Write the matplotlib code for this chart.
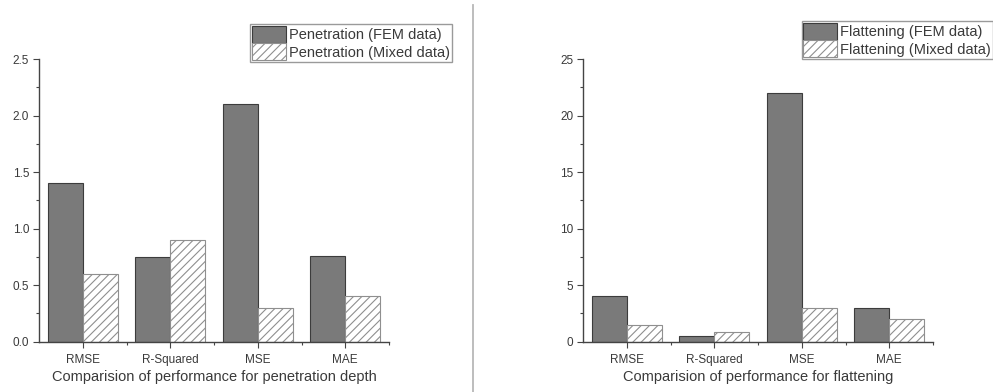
import numpy as np
import matplotlib.pyplot as plt
from matplotlib.ticker import MultipleLocator, FixedLocator
from matplotlib.lines import Line2D

plt.rcParams['font.family'] = ['Liberation Sans', 'DejaVu Sans']
plt.rcParams['hatch.linewidth'] = 0.8

metrics = ['RMSE', 'R-Squared', 'MSE', 'MAE']

pen_fem = [1.40, 0.75, 2.10, 0.76]
pen_mixed = [0.60, 0.90, 0.30, 0.40]

flat_fem = [4.0, 0.5, 22.0, 3.0]
flat_mixed = [1.5, 0.9, 3.0, 2.0]

fig = plt.figure(figsize=(9.93, 3.92), dpi=100)
ax1 = fig.add_axes([39/993, 1-341.7/392, 350/993, 282.7/392])
ax2 = fig.add_axes([583/993, 1-341.7/392, 350/993, 282.7/392])

text_col = '#3a3a3a'
w = 0.4
x = np.arange(len(metrics))


def draw(ax, fem, mixed, labels, ymax, ystep, xlabel, leg_box):
    ax.bar(x - w/2, fem, w, color='#7a7a7a', edgecolor='#3c3c3c', linewidth=0.8,
           label=labels[0])
    ax.bar(x + w/2, mixed, w, color='white', edgecolor='#8f8f8f', hatch='////',
           linewidth=0.8, label=labels[1])
    ax.set_xlim(-0.5, 3.5)
    ax.set_ylim(0, ymax)
    ax.spines['top'].set_visible(False)
    ax.spines['right'].set_visible(False)
    for s in ['left', 'bottom']:
        ax.spines[s].set_color('#444444')
        ax.spines[s].set_linewidth(1.0)
    ax.set_xticks(x)
    ax.set_xticklabels(metrics)
    ax.xaxis.set_minor_locator(FixedLocator([0.5, 1.5, 2.5, 3.5]))
    ax.yaxis.set_major_locator(MultipleLocator(ystep))
    ax.yaxis.set_minor_locator(MultipleLocator(ystep/2))
    ax.tick_params(which='major', length=4, width=0.8, color='#444444',
                   labelsize=8.5, labelcolor=text_col, pad=3)
    ax.tick_params(axis='x', which='major', pad=5)
    ax.tick_params(which='minor', length=2, width=0.8, color='#444444')
    ax.set_xlabel(xlabel, fontsize=10.5, color=text_col, labelpad=3)
    leg = ax.legend(loc='upper right', bbox_to_anchor=leg_box,
                    bbox_transform=fig.transFigure, fontsize=10.5,
                    fancybox=False, framealpha=1, edgecolor='#9a9a9a',
                    handlelength=2.3, handleheight=1.4, labelspacing=0.05,
                    borderpad=0.12, handletextpad=0.25, borderaxespad=0)
    leg.get_frame().set_linewidth(1.0)
    for t in leg.get_texts():
        t.set_color(text_col)


draw(ax1, pen_fem, pen_mixed,
     ['Penetration (FEM data)', 'Penetration (Mixed data)'],
     2.5, 0.5, 'Comparision of performance for penetration depth',
     (452/993, 1-24/392))
ax1.yaxis.set_major_formatter(plt.FormatStrFormatter('%.1f'))

draw(ax2, flat_fem, flat_mixed,
     ['Flattening (FEM data)', 'Flattening (Mixed data)'],
     25, 5, 'Comparision of performance for flattening',
     (993/993, 1-21/392))

# divider between the two panels
fig.add_artist(Line2D([473/993, 473/993], [0, 1-5/392], transform=fig.transFigure,
                      color='#b8b8b8', linewidth=1.3))

fig.savefig('out.png', dpi=100)
